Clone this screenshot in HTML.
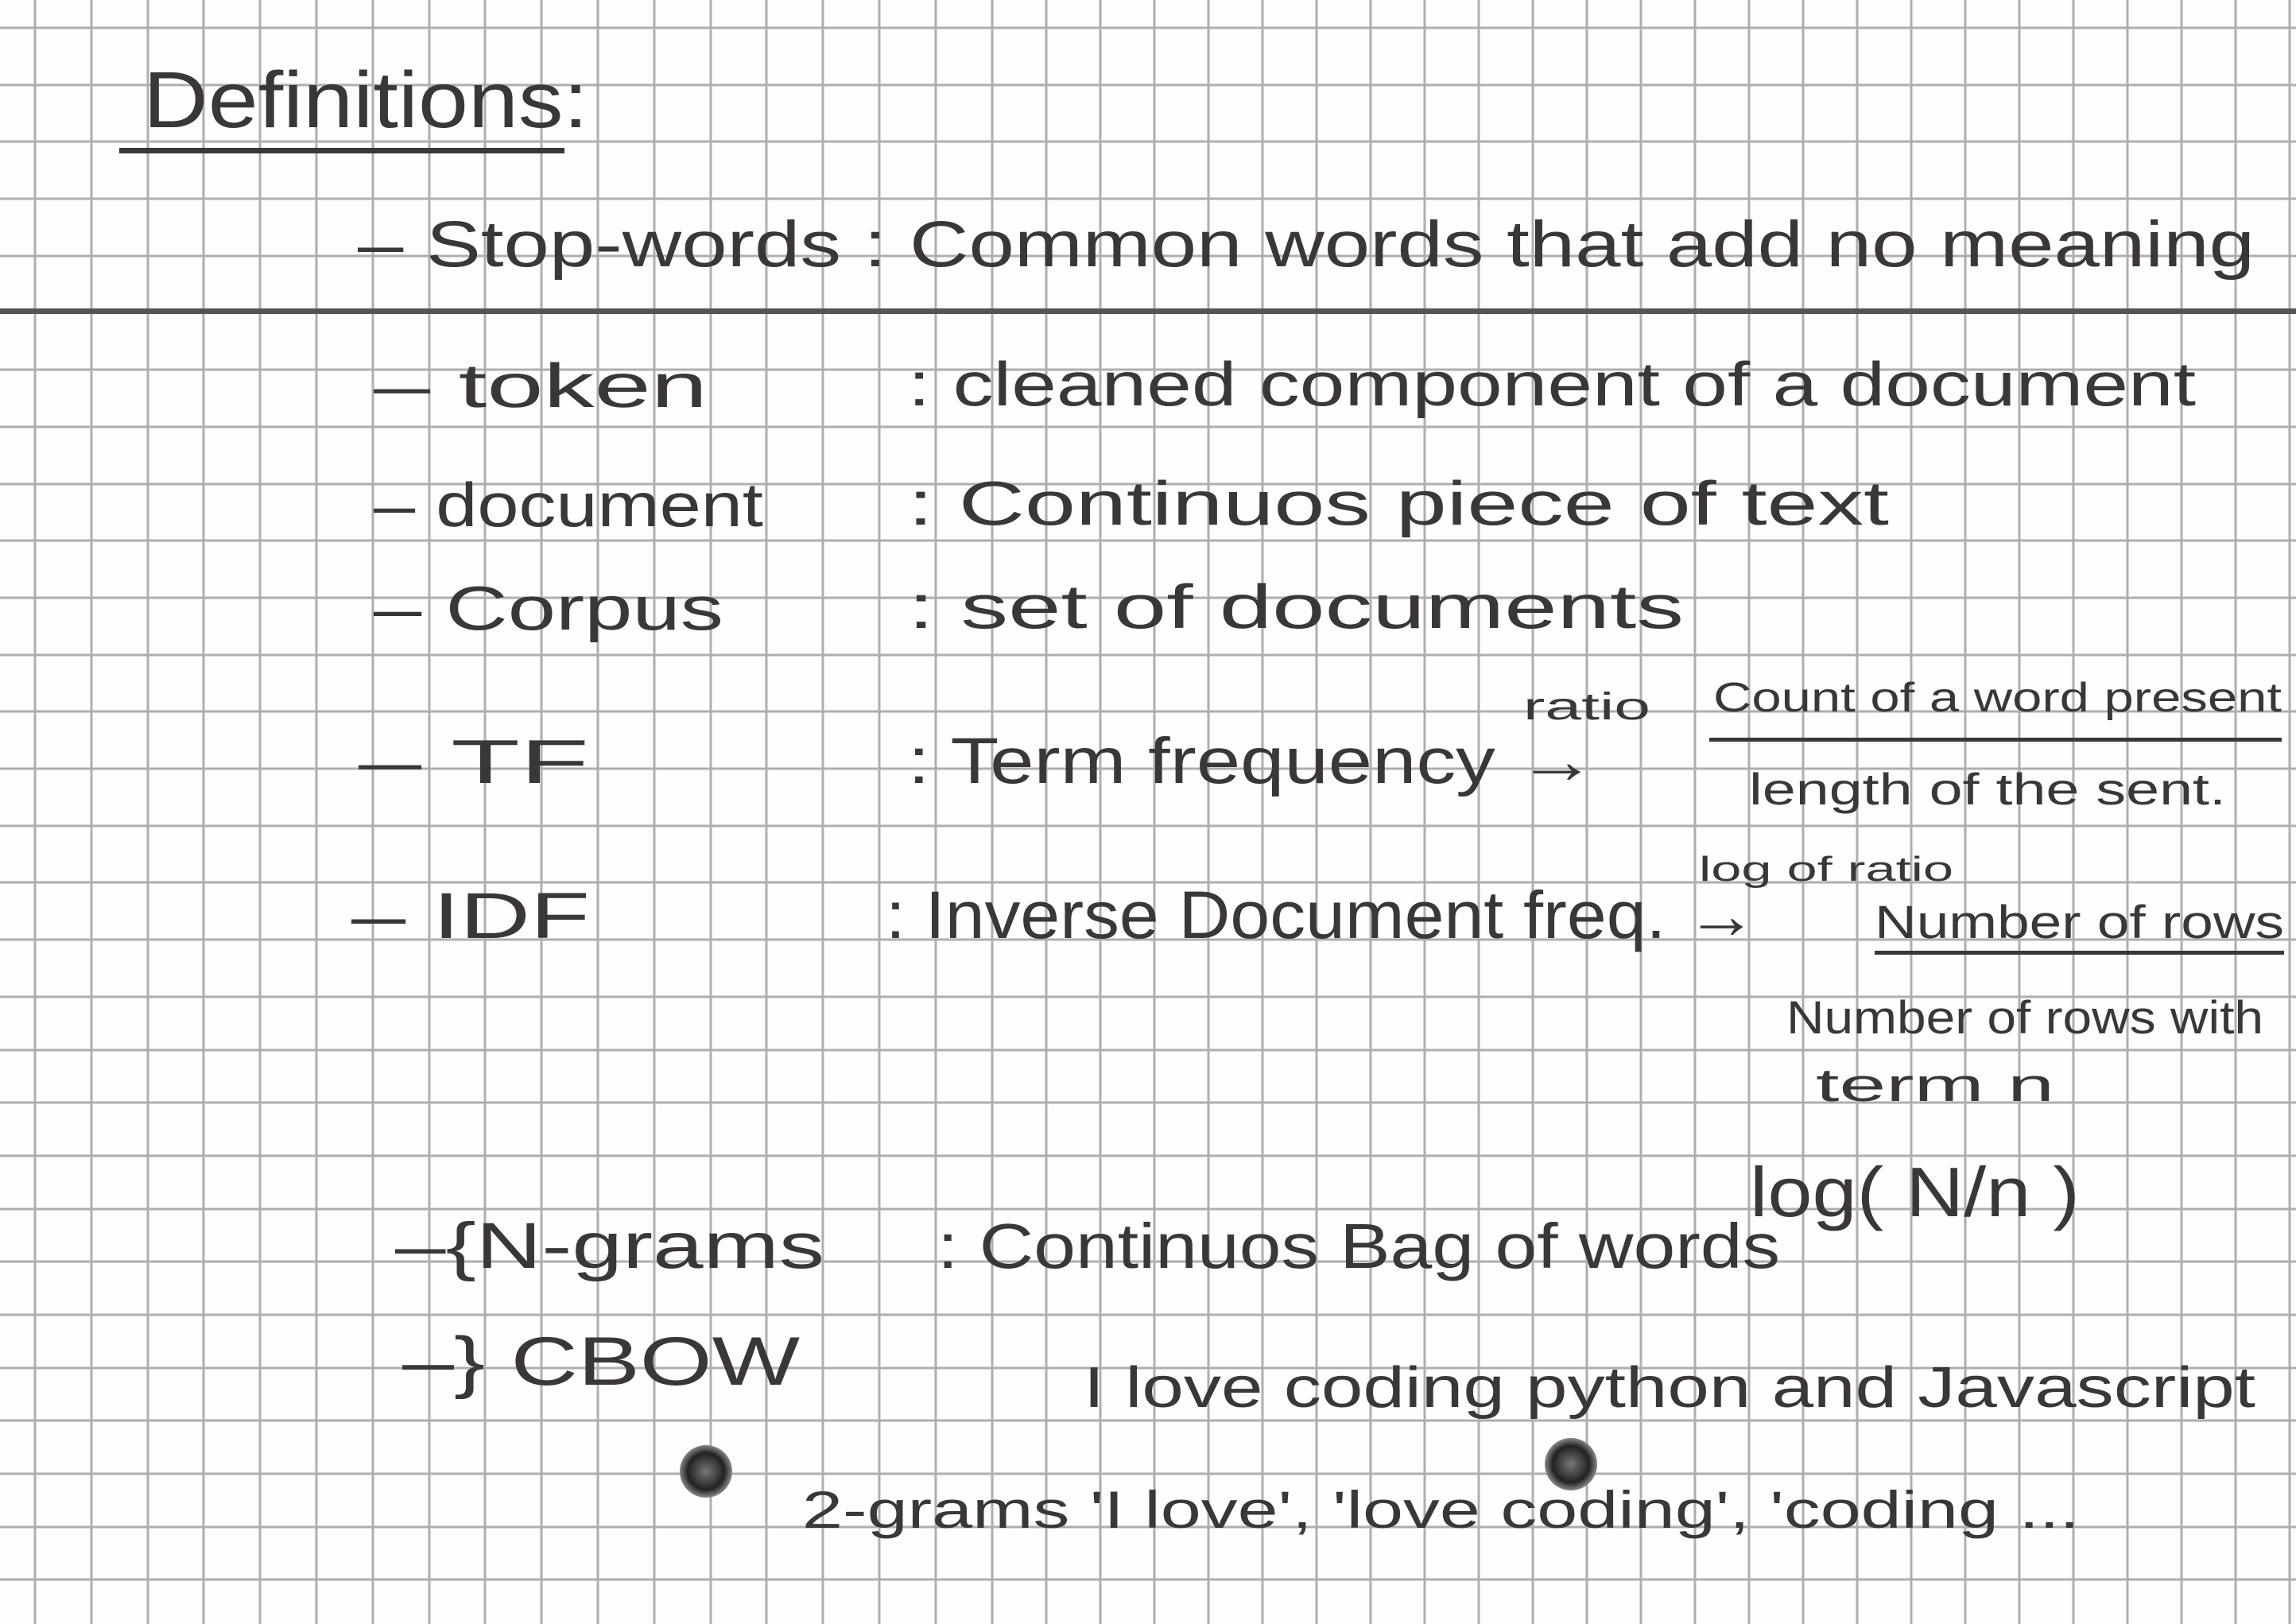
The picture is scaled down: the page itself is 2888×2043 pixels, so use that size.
<!DOCTYPE html>
<html><head><meta charset="utf-8"><style>
html,body{margin:0;padding:0;background:#fff}
svg{display:block}
text{font-family:"Liberation Sans",sans-serif;fill:#3b3737}
</style></head><body>
<svg width="2888" height="2043" viewBox="0 0 2888 2043" xmlns="http://www.w3.org/2000/svg">
<defs>
<radialGradient id="h"><stop offset="0" stop-color="#777"/><stop offset="0.7" stop-color="#222"/><stop offset="1" stop-color="#888"/></radialGradient>
</defs>
<rect width="2888" height="2043" fill="#fdfdfd"/>
<g stroke="#b0aeac" stroke-width="3" fill="none">
<path d="M44 0V2043M115 0V2043M186 0V2043M256 0V2043M327 0V2043M398 0V2043M469 0V2043M540 0V2043M610 0V2043M681 0V2043M752 0V2043M823 0V2043M894 0V2043M964 0V2043M1035 0V2043M1106 0V2043M1177 0V2043M1248 0V2043M1316 0V2043M1384 0V2043M1452 0V2043M1520 0V2043M1588 0V2043M1656 0V2043M1724 0V2043M1792 0V2043M1860 0V2043M1928 0V2043M1996 0V2043M2064 0V2043M2132 0V2043M2200 0V2043M2268 0V2043M2336 0V2043M2404 0V2043M2472 0V2043M2540 0V2043M2608 0V2043M2676 0V2043M2744 0V2043M2812 0V2043M2880 0V2043"/>
<path d="M0 35H2888M0 107H2888M0 178H2888M0 250H2888M0 322H2888M0 465H2888M0 537H2888M0 609H2888M0 680H2888M0 752H2888M0 824H2888M0 895H2888M0 967H2888M0 1039H2888M0 1110H2888M0 1182H2888M0 1254H2888M0 1321H2888M0 1387H2888M0 1454H2888M0 1521H2888M0 1587H2888M0 1654H2888M0 1721H2888M0 1787H2888M0 1854H2888M0 1921H2888M0 1987H2888"/>
</g>
<rect x="0" y="388" width="2888" height="7" fill="#555"/>

<text x="180" y="160" font-size="100" textLength="560" lengthAdjust="spacingAndGlyphs">Definitions:</text>
<rect x="150" y="186" width="560" height="7" fill="#3b3737"/>

<text x="450" y="335" font-size="82" textLength="2386" lengthAdjust="spacingAndGlyphs">– Stop-words : Common words that add no meaning</text>

<text x="470" y="512" font-size="78" textLength="420" lengthAdjust="spacingAndGlyphs">– token</text>
<text x="1142" y="510" font-size="78" textLength="1620" lengthAdjust="spacingAndGlyphs">: cleaned component of a document</text>

<text x="470" y="662" font-size="78" textLength="490" lengthAdjust="spacingAndGlyphs">– document</text>
<text x="1142" y="660" font-size="78" textLength="1234" lengthAdjust="spacingAndGlyphs">: Continuos piece of text</text>

<text x="470" y="792" font-size="78" textLength="440" lengthAdjust="spacingAndGlyphs">– Corpus</text>
<text x="1142" y="790" font-size="78" textLength="976" lengthAdjust="spacingAndGlyphs">: set of documents</text>

<text x="451" y="985" font-size="78" textLength="290" lengthAdjust="spacingAndGlyphs">– TF</text>
<text x="1142" y="985" font-size="82" textLength="866" lengthAdjust="spacingAndGlyphs">: Term frequency →</text>
<text x="1916" y="905" font-size="48" textLength="160" lengthAdjust="spacingAndGlyphs">ratio</text>
<text x="2155" y="895" font-size="52" textLength="715" lengthAdjust="spacingAndGlyphs">Count of a word present</text>
<rect x="2150" y="928" width="720" height="5" fill="#3b3737"/>
<text x="2200" y="1012" font-size="56" textLength="600" lengthAdjust="spacingAndGlyphs">length of the sent.</text>

<text x="442" y="1180" font-size="82" textLength="300" lengthAdjust="spacingAndGlyphs">– IDF</text>
<text x="1114" y="1180" font-size="84" textLength="1096" lengthAdjust="spacingAndGlyphs">: Inverse Document freq. →</text>
<text x="2137" y="1108" font-size="44" textLength="320" lengthAdjust="spacingAndGlyphs">log of ratio</text>
<text x="2358" y="1180" font-size="58" textLength="515" lengthAdjust="spacingAndGlyphs">Number of rows</text>
<rect x="2358" y="1196" width="515" height="5" fill="#3b3737"/>
<text x="2247" y="1300" font-size="58" textLength="600" lengthAdjust="spacingAndGlyphs">Number of rows with</text>
<text x="2284" y="1385" font-size="58" textLength="300" lengthAdjust="spacingAndGlyphs">term  n</text>
<text x="2201" y="1530" font-size="88" textLength="415" lengthAdjust="spacingAndGlyphs">log( N/n )</text>

<text x="497" y="1595" font-size="82" textLength="540" lengthAdjust="spacingAndGlyphs">–{N-grams</text>
<text x="1179" y="1595" font-size="80" textLength="1060" lengthAdjust="spacingAndGlyphs">: Continuos Bag of words</text>
<text x="506" y="1742" font-size="86" textLength="500" lengthAdjust="spacingAndGlyphs">–} CBOW</text>
<text x="1363" y="1770" font-size="72" textLength="1474" lengthAdjust="spacingAndGlyphs">I  love  coding  python  and  Javascript</text>
<text x="1009" y="1922" font-size="66" textLength="1607" lengthAdjust="spacingAndGlyphs">2-grams  'I love', 'love coding', 'coding ...</text>

<circle cx="888" cy="1851" r="33" fill="url(#h)"/>
<circle cx="1976" cy="1842" r="33" fill="url(#h)"/>
</svg>
</body></html>
